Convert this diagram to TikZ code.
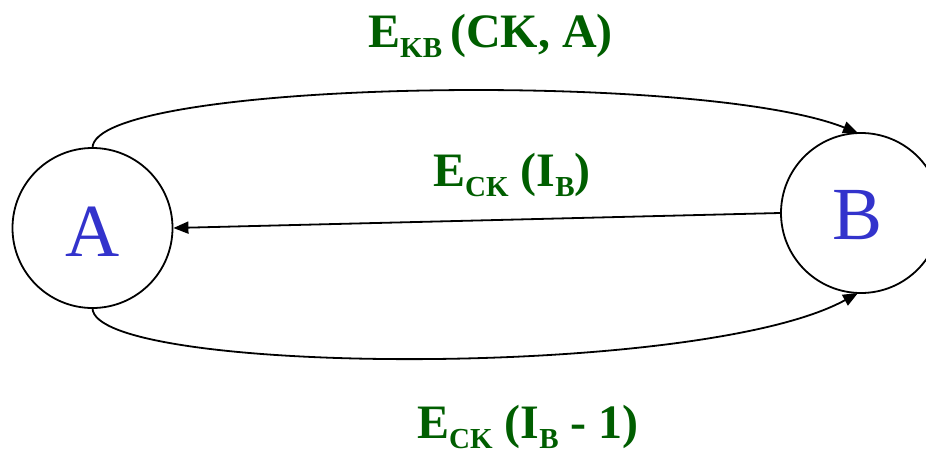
\documentclass[tikz,border=0pt]{standalone}
\usepackage{fontspec}
\setmainfont{Liberation Serif}
\usetikzlibrary{arrows.meta}
\definecolor{lblgreen}{RGB}{0,94,0}
\definecolor{letblue}{RGB}{51,51,204}
\newcommand\sbx[1]{\raisebox{-10pt}{\fontsize{29}{29}\selectfont #1}}
\tikzset{
  state/.style={circle,draw=black,line width=1.8pt,minimum size=160pt,inner sep=0pt},
  letter/.style={anchor=base,inner sep=0pt,text=letblue,font=\fontsize{75}{75}\selectfont},
  msg/.style={anchor=base west,inner sep=0pt,text=lblgreen,font=\fontsize{48}{48}\selectfont\bfseries},
  conn/.style={draw=black,line width=1.8pt,-{Triangle[length=15pt,width=12pt]}}
}
\begin{document}
\begin{tikzpicture}[x=1pt,y=-1pt]
\useasboundingbox (0,0) rectangle (926,455);
\node[state] (A) at (92.5,228) {};
\node[state] (B) at (861,213) {};
\node[letter] (Al) at (92.5,256) {A};
\node[letter] (Bl) at (858,239) {B};
\coordinate (At) at (92.5,148);
\coordinate (Ab) at (92.5,308);
\coordinate (Bt) at (858,133);
\coordinate (Bb) at (858,293);
\draw[conn] (At) .. controls (92.5,80) and (700,70) .. (Bt);
\draw[conn] (Ab) .. controls (92.5,375) and (700,380) .. (Bb);
\draw[conn] (B.west) -- (A.east);
\node[msg] (m1) at (368,47) {E\sbx{KB}\,(CK, A)};
\node[msg] (m2) at (433,186) {E\sbx{CK} (I\sbx{B})};
\node[msg] (m3) at (417,438) {E\sbx{CK} (I\sbx{B} - 1)};
\end{tikzpicture}
\end{document}
